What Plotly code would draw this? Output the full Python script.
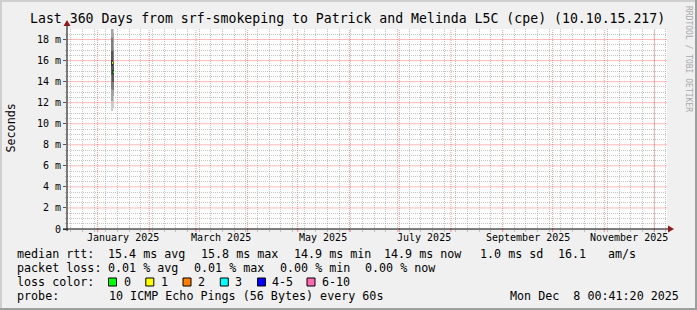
import pandas as pd
import plotly.graph_objects as go

# ---------------- data ----------------
TITLE = "Last 360 Days from srf-smokeping to Patrick and Melinda L5C (cpe) (10.10.15.217)"
range_start = "2024-12-13 15:00"
range_end = "2025-12-08 15:00"

slot_times = ["2025-01-09 22:00", "2025-01-10 12:00"]
slot_hours = 14.4
pings = [
    [11.2, 12.2, 13.3, 14.6, 15.5, 16.1, 16.9, 18.1, 19.6, 21.0],
    [11.5, 12.6, 13.2, 14.0, 14.7, 15.1, 15.9, 17.0, 18.6, 21.0],
]
medians = [15.8, 14.9]
loss_counts = [1, 0]

y_tick_vals = [0, 2, 4, 6, 8, 10, 12, 14, 16, 18]
y_tick_text = ["0", "2 m", "4 m", "6 m", "8 m", "10 m", "12 m", "14 m", "16 m", "18 m"]
y_minor_vals = [0.5, 1, 1.5, 2.5, 3, 3.5, 4.5, 5, 5.5, 6.5, 7, 7.5, 8.5, 9, 9.5,
                10.5, 11, 11.5, 12.5, 13, 13.5, 14.5, 15, 15.5, 16.5, 17, 17.5, 18.5]
month_starts = ["2025-01-01", "2025-02-01", "2025-03-01", "2025-04-01", "2025-05-01", "2025-06-01",
                "2025-07-01", "2025-08-01", "2025-09-01", "2025-10-01", "2025-11-01", "2025-12-01"]
month_label_dates = ["2025-01-16", "2025-03-16", "2025-05-16", "2025-07-16", "2025-09-16", "2025-11-16"]
month_labels = ["January 2025", "March 2025", "May 2025", "July 2025", "September 2025", "November 2025"]

loss_keys = ["0", "1", "2", "3", "4-5", "6-10"]
loss_colors = ["#00ff00", "#ffff00", "#ff8000", "#00ffff", "#0000ff", "#ff69b4"]
smoke_colors = ["#cacaca", "#a4a4a4", "#7e7e7e", "#585858", "#323232"]

rtt_items = ["15.4 ms avg", "15.8 ms max", "14.9 ms min", "14.9 ms now", "1.0 ms sd", "16.1", "am/s"]
loss_items = ["0.01 % avg", "0.01 % max", "0.00 % min", "0.00 % now"]
probe_text = "10 ICMP Echo Pings (56 Bytes) every 60s"
stamp_text = "Mon Dec\u00a0\u00a08 00:41:20 2025"

# ---------------- layout helpers ----------------
W, H = 697, 310
L, T = 67, 29
PW, PH = 600, 200
R = W - L - PW
B = H - T - PH
FONT = "DejaVu Sans Mono"
MGRID = "rgba(255,0,0,0.42)"
MGRID_H = "rgba(255,0,0,0.28)"
GRID = "rgba(140,140,140,0.5)"


def px(x):
    return (x - L) / PW


def py(y):
    return (T + PH - y) / PH


fig = go.Figure()

# smoke bands
slot_ms = slot_hours * 3600 * 1000
for i, col in enumerate(smoke_colors):
    lo = [p[i] for p in pings]
    hi = [p[len(p) - 1 - i] for p in pings]
    fig.add_trace(go.Bar(
        x=slot_times, base=lo, y=[h - l for h, l in zip(hi, lo)],
        width=[slot_ms] * len(slot_times),
        marker=dict(color=col, line=dict(width=0)),
        showlegend=False, hoverinfo="skip",
    ))

# median segments coloured by loss
half = pd.Timedelta(hours=slot_hours / 2)
for t, m, lc in zip(slot_times, medians, loss_counts):
    tt = pd.Timestamp(t)
    idx = 0 if lc == 0 else (1 if lc == 1 else (2 if lc == 2 else (3 if lc == 3 else (4 if lc <= 5 else 5))))
    fig.add_trace(go.Scatter(
        x=[tt - half, tt + half], y=[m, m], mode="lines",
        line=dict(color=loss_colors[idx], width=2),
        showlegend=False, hoverinfo="skip",
    ))

annotations = []
shapes = []

# major grid (red) via shapes on the data scales
for d in month_starts:
    shapes.append(dict(type="line", xref="x", yref="paper", x0=d, x1=d, y0=0, y1=1,
                       line=dict(color=MGRID, width=1, dash="1px,1px"), layer="between"))
    shapes.append(dict(type="line", xref="x", yref="paper", x0=d, x1=d, y0=0, y1=py(232),
                       line=dict(color=MGRID, width=1), layer="between"))
for v in y_tick_vals[1:]:
    shapes.append(dict(type="line", xref="paper", yref="y", x0=0, x1=1, y0=v, y1=v,
                       line=dict(color=MGRID_H, width=1), layer="between"))

# month labels
for d, lab in zip(month_label_dates, month_labels):
    annotations.append(dict(x=d, xref="x", y=py(237.5), yref="paper", text=lab,
                            showarrow=False, xanchor="center", yanchor="middle",
                            font=dict(family=FONT, size=10, color="black")))

# title
annotations.append(dict(x=px(27.5), y=py(19), xref="paper", yref="paper", text=TITLE,
                        showarrow=False, xanchor="left", yanchor="middle",
                        font=dict(family=FONT, size=13.2, color="black")))
# y title
annotations.append(dict(x=px(10.5), y=py(128), xref="paper", yref="paper", text="Seconds",
                        showarrow=False, xanchor="center", yanchor="middle", textangle=-90,
                        font=dict(family=FONT, size=11.7, color="black")))
# watermark
annotations.append(dict(x=px(688.5), y=py(58.5), xref="paper", yref="paper",
                        text="RRDTOOL / TOBI OETIKER",
                        showarrow=False, xanchor="center", yanchor="middle", textangle=90,
                        font=dict(family=FONT, size=8, color="#aaaaaa")))


def txt(x, y, s, anchor="left"):
    annotations.append(dict(x=px(x - 1), y=py(y), xref="paper", yref="paper", text=s,
                            showarrow=False, xanchor=anchor, yanchor="middle",
                            font=dict(family=FONT, size=11.7, color="black")))


# legend lines
txt(16, 254, "median rtt:")
for s, x in zip(rtt_items, [107.3, 200, 293.3, 382.7, 479.3, 557.3, 607.3]):
    txt(x, 254, s)
txt(16, 268, "packet loss:")
for s, x in zip(loss_items, [107.3, 193.3, 279.3, 364]):
    txt(x, 268, s)
txt(16, 282.3, "loss color:")
for k, c, bx, lx in zip(loss_keys, loss_colors,
                        [108.5, 145.8, 183, 220.3, 257.5, 307],
                        [123.3, 160, 196.7, 234, 271, 321.3]):
    shapes.append(dict(type="rect", xref="paper", yref="paper",
                       x0=px(bx), x1=px(bx + 8), y0=py(278), y1=py(286),
                       fillcolor=c, line=dict(color="black", width=1)))
    txt(lx, 282.3, k)
txt(16, 296.3, "probe:")
txt(107.7, 296.3, probe_text)
annotations.append(dict(x=px(681), y=py(296.3), xref="paper", yref="paper", text=stamp_text,
                        showarrow=False, xanchor="right", yanchor="middle",
                        font=dict(family=FONT, size=11.7, color="black")))

# frame (3D border)
shapes += [
    dict(type="rect", xref="paper", yref="paper", x0=px(0), x1=px(W), y0=py(0), y1=py(2),
         fillcolor="#cfcfcf", line=dict(width=0), layer="below"),
    dict(type="rect", xref="paper", yref="paper", x0=px(0), x1=px(2), y0=py(0), y1=py(H),
         fillcolor="#cfcfcf", line=dict(width=0), layer="below"),
    dict(type="rect", xref="paper", yref="paper", x0=px(0), x1=px(W), y0=py(H - 2), y1=py(H),
         fillcolor="#9e9e9e", line=dict(width=0), layer="below"),
    dict(type="rect", xref="paper", yref="paper", x0=px(W - 2), x1=px(W), y0=py(0), y1=py(H),
         fillcolor="#9e9e9e", line=dict(width=0), layer="below"),
]

# axis lines with arrows
shapes += [
    dict(type="line", xref="paper", yref="paper", x0=px(67), x1=px(67), y0=py(231), y1=py(24),
         line=dict(color="black", width=1)),
    dict(type="line", xref="paper", yref="paper", x0=px(63), x1=px(669), y0=py(229), y1=py(229),
         line=dict(color="black", width=1)),
    dict(type="path", xref="paper", yref="paper",
         path=f"M {px(63.5)},{py(26)} L {px(70.5)},{py(26)} L {px(67)},{py(20)} Z",
         fillcolor="#8b1a1a", line=dict(color="#8b1a1a", width=0)),
    dict(type="path", xref="paper", yref="paper",
         path=f"M {px(668)},{py(225.5)} L {px(668)},{py(232.5)} L {px(674)},{py(229)} Z",
         fillcolor="#8b1a1a", line=dict(color="#8b1a1a", width=0)),
]

fig.update_layout(
    width=W, height=H,
    margin=dict(l=L, r=R, t=T, b=B, pad=0),
    paper_bgcolor="#f0f0f0", plot_bgcolor="white",
    barmode="overlay", bargap=0,
    showlegend=False,
    annotations=annotations, shapes=shapes,
    xaxis=dict(
        type="date", range=[range_start, range_end], fixedrange=True,
        showgrid=False, showticklabels=False, ticks="",
        zeroline=False, showline=False,
        minor=dict(dtick=7 * 86400000, tick0="2024-12-30", showgrid=True,
                   gridcolor=GRID, griddash="1px,1px",
                   ticks="outside", ticklen=2, tickcolor=GRID),
    ),
    yaxis=dict(
        range=[0, 19], fixedrange=True,
        tickmode="array", tickvals=y_tick_vals, ticktext=y_tick_text,
        showgrid=False,
        ticks="outside", ticklen=3, tickcolor="#555555",
        tickfont=dict(family=FONT, size=10, color="black"),
        zeroline=False, showline=False,
        minor=dict(tickmode="array", tickvals=y_minor_vals, showgrid=True,
                   gridcolor=GRID, griddash="1px,1px",
                   ticks="outside", ticklen=1, tickcolor=GRID),
    ),
)

fig.write_html("out.html")
